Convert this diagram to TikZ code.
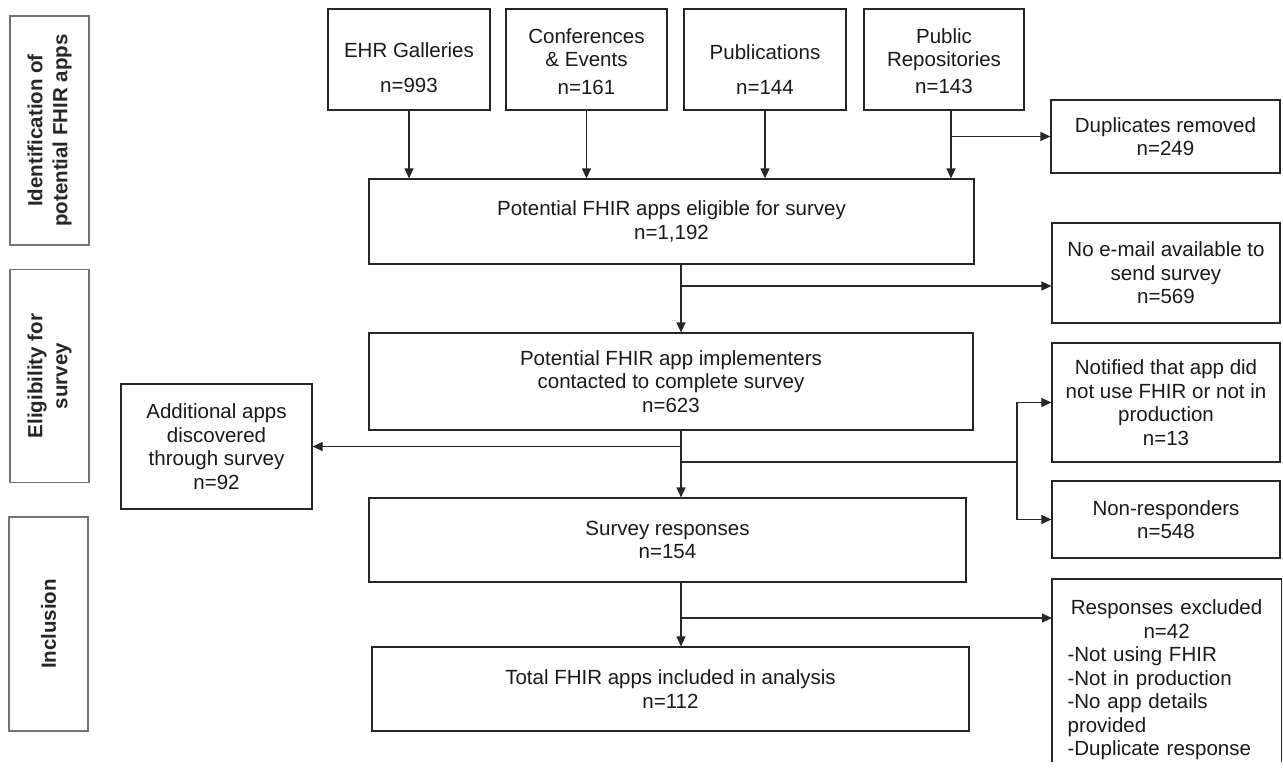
\documentclass[tikz,border=0pt]{standalone}
\usepackage{fontspec}
\setmainfont{Liberation Sans}
\usetikzlibrary{arrows.meta}

\begin{document}
\begin{tikzpicture}[x=1pt,y=-1pt,
    box/.style={draw=black!85, line width=1.2pt, align=center, inner sep=0pt,
        font=\fontsize{20.5}{23.5}\selectfont, text=black!90},
    sidebox/.style={draw=black!55, line width=1.5pt, rotate=90, align=center, inner sep=0pt,
        font=\bfseries\fontsize{20.5}{25}\selectfont, text=black!85},
    link/.style={line width=1.2pt, draw=black!85},
    arr/.style={link, -{Triangle[length=10pt,width=9pt]}}]
    \useasboundingbox (0,0) rectangle (1283,771);

    \node[sidebox, minimum width=229, minimum height=79] (sideid) at (49.5,130.5) {Identification of\\potential FHIR apps};
    \node[sidebox, minimum width=213, minimum height=79] (sideelig) at (49.5,376) {Eligibility for\\survey};
    \node[sidebox, minimum width=214, minimum height=79] (sideincl) at (48.5,624) {Inclusion};

    \node[box, minimum width=162, minimum height=101] (ehr) at (409,59.5) {\rule{0pt}{31pt}EHR Galleries\\[11.5pt]n=993};
    \node[box, minimum width=161, minimum height=101] (conf) at (586.5,59.5) {\rule{0pt}{19pt}Conferences\\\& Events\\[4pt]n=161};
    \node[box, minimum width=162, minimum height=101] (pub) at (765,59.5) {\rule{0pt}{35pt}Publications\\[11.5pt]n=144};
    \node[box, minimum width=160, minimum height=101] (repo) at (944,59.5) {\rule{0pt}{18pt}Public\\Repositories\\[3pt]n=143};

    \node[box, minimum width=605, minimum height=85] (elig) at (671.5,221.5) {Potential FHIR apps eligible for survey\\n=1,192};
    \node[box, minimum width=229, minimum height=73] (dup) at (1165.5,136.5) {Duplicates removed\\n=249};
    \node[box, minimum width=228, minimum height=100] (noemail) at (1166,273) {No e-mail available to\\send survey\\n=569};
    \node[box, minimum width=604, minimum height=97] (contact) at (671,381.5) {Potential FHIR app implementers\\contacted to complete survey\\n=623};
    \node[box, minimum width=191, minimum height=125] (addl) at (216.5,446.5) {Additional apps\\discovered\\through survey\\n=92};
    \node[box, minimum width=228, minimum height=119] (notif) at (1166,402.5) {Notified that app did\\not use FHIR or not in\\production\\n=13};
    \node[box, minimum width=228, minimum height=77] (nonresp) at (1166,519.5) {Non-responders\\n=548};
    \node[box, minimum width=597, minimum height=84] (survey) at (667.5,540) {Survey responses\\n=154};
    \node[box, minimum width=597, minimum height=84] (total) at (670.5,689) {Total FHIR apps included in analysis\\n=112};
    \node[box, draw=none, anchor=north west, text width=198, inner xsep=15, inner ysep=20.5, align=left] (excl) at (1052,579)
        {\makebox[\linewidth]{Responses excluded}\\\makebox[\linewidth]{n=42}\\-Not using FHIR\\-Not in production\\-No app details\\provided\\-Duplicate response};
    \coordinate (exclbot) at (0,762);
    \draw[link] (excl.north west |- exclbot) -- (excl.north west) -- (excl.north east) -- (excl.north east |- exclbot);

    \coordinate (trunk) at (681,0);
    \coordinate (b1) at (681,286);
    \coordinate (b2) at (1017,462);
    \coordinate (b3) at (681,618);

    \draw[arr] (ehr.south) -- (ehr.south |- elig.north);
    \draw[arr] (conf.south) -- (conf.south |- elig.north);
    \draw[arr] (pub.south) -- (pub.south |- elig.north);
    \draw[arr] ([xshift=7]repo.south) -- ([xshift=7]repo.south |- elig.north);
    \draw[arr] ([xshift=7]repo.south |- dup.west) -- (dup.west);

    \draw[arr] (trunk |- elig.south) -- (trunk |- contact.north);
    \draw[arr] (b1) -- (b1 -| noemail.west);

    \draw[arr] (trunk |- contact.south) -- (trunk |- survey.north);
    \draw[arr] (trunk |- addl.east) -- (addl.east);
    \draw[link] (trunk |- b2) -- (b2);
    \draw[arr] (b2) |- (notif.west);
    \draw[arr] (b2) |- (nonresp.west);

    \draw[arr] (trunk |- survey.south) -- (trunk |- total.north);
    \draw[arr] (b3) -- (b3 -| excl.west);
\end{tikzpicture}
\end{document}
